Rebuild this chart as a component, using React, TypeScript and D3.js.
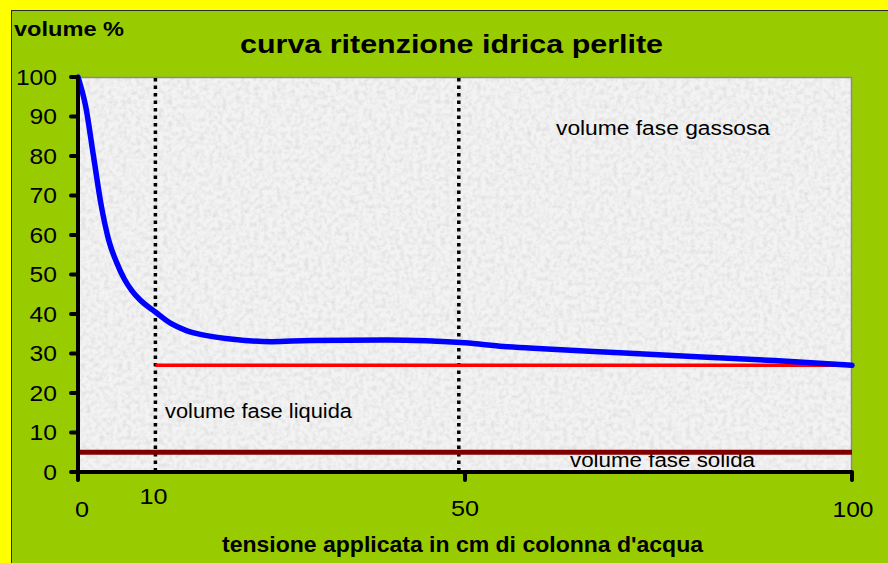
import React from "react";
import * as d3 from "d3";

const tension = [0, 1, 2, 3, 4, 5, 6, 7, 8, 10, 12, 14, 17, 20, 25, 30, 40, 45, 50, 55, 60, 70, 80, 90, 100];
const volume = [100, 92.5, 80, 67.5, 58.5, 53, 48.8, 45.8, 43.6, 40.5, 37.6, 35.8, 34.4, 33.6, 33.0, 33.3, 33.4, 33.2, 32.7, 31.8, 31.2, 30.2, 29.2, 28.2, 27];

const liquidLevel = 27;
const liquidRange = [10, 99.5];
const solidLevel = 5;
const solidRange = [0, 100];
const dottedAt = [10, 49.2];

const yTicks = [0, 10, 20, 30, 40, 50, 60, 70, 80, 90, 100];
const xTickMarks = [0, 50, 100];
const xTickLabels = [0, 10, 50, 100];

const title = "curva ritenzione idrica perlite";
const yTitle = "volume %";
const xTitle = "tensione applicata in cm di colonna d'acqua";
const labelGas = "volume fase gassosa";
const labelLiquid = "volume fase liquida";
const labelSolid = "volume fase solida";

const W = 888;
const H = 563;
const P = { left: 78, right: 852, top: 77, bottom: 472 };

export default function App() {
  const x = d3.scaleLinear().domain([0, 100]).range([P.left, P.right]);
  const y = d3.scaleLinear().domain([0, 100]).range([P.bottom, P.top]);
  const pts: [number, number][] = tension.map((t, i) => [t, volume[i]]);
  const line = d3
    .line<[number, number]>()
    .x((d) => x(d[0]))
    .y((d) => y(d[1]))
    .curve(d3.curveMonotoneX);

  const font = "'Liberation Sans', Arial, sans-serif";
  const xLabelPos: Record<number, { dx: number; by: number; w: number }> = {
    0: { dx: 4, by: 517, w: 14 },
    10: { dx: -2, by: 504, w: 28 },
    50: { dx: 0, by: 516, w: 28 },
    100: { dx: 1, by: 517, w: 41 },
  };

  return (
    <svg width={W} height={H} style={{ position: "absolute", left: 0, top: 0 }} fontFamily={font}>
      <defs>
        <filter id="noise" x="0" y="0" width="100%" height="100%">
          <feTurbulence type="fractalNoise" baseFrequency="0.22" numOctaves="3" seed="4" result="n" />
          <feColorMatrix
            in="n"
            type="matrix"
            values="0 0 0 0 0.7  0 0 0 0 0.7  0 0 0 0 0.7  1.6 0 0 0 -0.62"
          />
        </filter>
        <clipPath id="plotclip">
          <rect x={P.left} y={P.top} width={P.right - P.left} height={P.bottom - P.top} />
        </clipPath>
      </defs>
      <rect x={0} y={0} width={W} height={H} fill="#ffff00" />
      <rect x={11.5} y={10.5} width={W + 10} height={H + 10} fill="#99cc00" stroke="#2a2a2a" strokeWidth={1} />

      {/* plot area */}
      <rect x={P.left} y={P.top} width={P.right - P.left} height={P.bottom - P.top} fill="#f3f3f3" />
      <rect
        x={P.left}
        y={P.top}
        width={P.right - P.left}
        height={P.bottom - P.top}
        fill="#fff"
        filter="url(#noise)"
      />
      <path
        d={`M${P.left},${P.top + 0.5}H${P.right - 0.5}V${P.bottom}`}
        fill="none"
        stroke="#8a8a8a"
        strokeWidth={1.5}
      />

      <text x={240} y={53} fontSize={26} fontWeight="bold" textLength={423} lengthAdjust="spacingAndGlyphs">
        {title}
      </text>
      <text x={14} y={36} fontSize={20} fontWeight="bold" textLength={110} lengthAdjust="spacingAndGlyphs">
        {yTitle}
      </text>
      <text x={222} y={552} fontSize={22} fontWeight="bold" textLength={481} lengthAdjust="spacingAndGlyphs">
        {xTitle}
      </text>

      <g clipPath="url(#plotclip)">
        {dottedAt.map((v) => (
          <line
            key={v}
            x1={x(v)}
            x2={x(v)}
            y1={P.top + 1}
            y2={P.bottom}
            stroke="#000"
            strokeWidth={3.5}
            strokeDasharray="3.5,4"
          />
        ))}
      </g>

      <text x={556} y={135} fontSize={19.5} textLength={214} lengthAdjust="spacingAndGlyphs">
        {labelGas}
      </text>
      <text x={165} y={418} fontSize={19.5} textLength={187} lengthAdjust="spacingAndGlyphs">
        {labelLiquid}
      </text>
      <text x={570} y={467} fontSize={19.5} textLength={185} lengthAdjust="spacingAndGlyphs">
        {labelSolid}
      </text>

      <line
        x1={x(liquidRange[0])}
        x2={x(liquidRange[1])}
        y1={y(liquidLevel)}
        y2={y(liquidLevel)}
        stroke="#ff0000"
        strokeWidth={3.5}
      />
      <line
        x1={x(solidRange[0])}
        x2={x(solidRange[1])}
        y1={y(solidLevel)}
        y2={y(solidLevel)}
        stroke="#800000"
        strokeWidth={5}
      />
      <path d={line(pts) || ""} fill="none" stroke="#0000ff" strokeWidth={5.5} strokeLinecap="round" strokeLinejoin="round" />

      {/* axes */}
      <line x1={P.left} x2={P.left} y1={P.top} y2={P.bottom} stroke="#000" strokeWidth={4} />
      <line x1={P.left} x2={P.right} y1={P.bottom} y2={P.bottom} stroke="#000" strokeWidth={4} />
      {yTicks.map((t) => (
        <g key={t}>
          <line x1={P.left - 7} x2={P.left} y1={y(t)} y2={y(t)} stroke="#000" strokeWidth={4} strokeLinecap="round" />
          <text
            x={57}
            y={y(t) + 7.8}
            fontSize={21.5}
            textAnchor="end"
            textLength={String(t).length * 13.7}
            lengthAdjust="spacingAndGlyphs"
          >
            {t}
          </text>
        </g>
      ))}
      {xTickMarks.map((t) => (
        <line key={t} x1={x(t)} x2={x(t)} y1={P.bottom} y2={P.bottom + 8} stroke="#000" strokeWidth={4} strokeLinecap="round" />
      ))}
      {xTickLabels.map((t) => {
        const p = xLabelPos[t];
        return (
          <text
            key={t}
            x={x(t) + p.dx}
            y={p.by}
            fontSize={21.5}
            textAnchor="middle"
            textLength={p.w}
            lengthAdjust="spacingAndGlyphs"
          >
            {t}
          </text>
        );
      })}
    </svg>
  );
}
